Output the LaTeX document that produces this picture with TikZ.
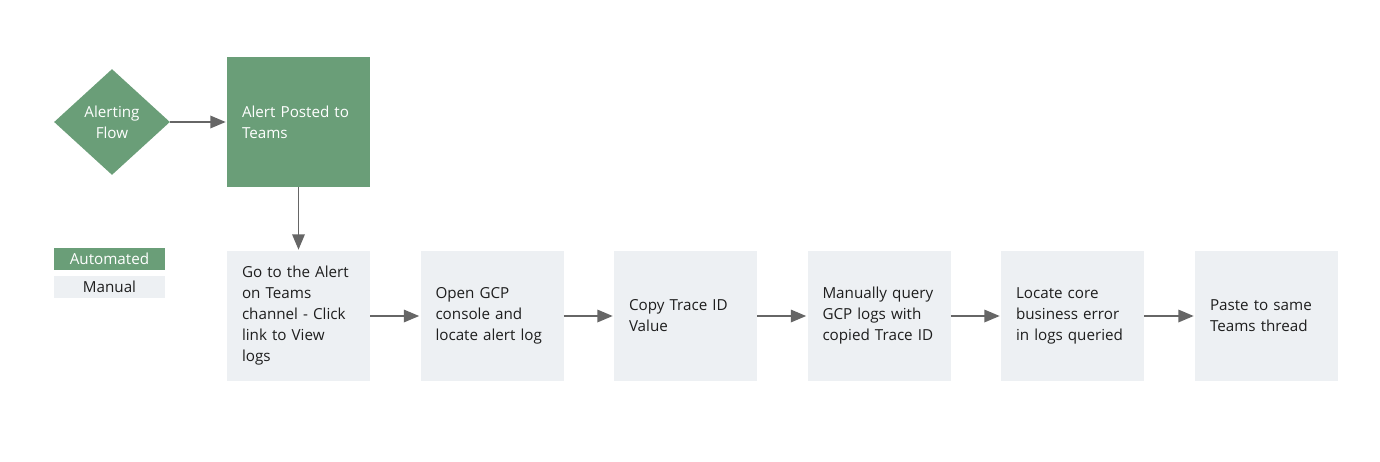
\documentclass[tikz,border=0pt]{standalone}
\usepackage{fontspec}
\setmainfont{Open Sans}
\usetikzlibrary{arrows,shapes.geometric}

\begin{document}
\begin{tikzpicture}[x=0.5pt, y=-0.5pt,
    %Option for nice arrows
    >=triangle 45, %
    font=\fontsize{7.6}{10.5}\selectfont,
    flow/.style={->, color=arrowgray, line width=0.75pt, shorten >=0.5pt},
    auto/.style={fill=autogreen, text=white},
    manual/.style={fill=manualgray, text=textdark},
    stepbox/.style={inner xsep=7.5pt, inner ysep=0pt, text width=56.5pt, minimum height=65pt, align=left},
    legend/.style={inner sep=0pt, minimum width=55.5pt, minimum height=11pt},
]
    % Colors
    \definecolor{autogreen}{RGB}{106,158,120}
    \definecolor{manualgray}{RGB}{237,240,243}
    \definecolor{arrowgray}{RGB}{102,102,102}
    \definecolor{textdark}{RGB}{30,30,30}

    % Frame
    \useasboundingbox (0,0) rectangle (1380,461);

    % Automated part
    \node[auto, diamond, inner sep=0pt, minimum width=58pt, minimum height=53pt, aspect=1.1, align=center]
        (alerting) at (112,122) {Alerting\\Flow};
    \node[auto, stepbox] (posted) at (298.5,122) {Alert Posted to\\Teams};

    % Legend
    \node[auto,   legend] (legauto)   at (109.5,259)   {Automated};
    \node[manual, legend] (legmanual) at (109.5,286.5) {Manual};

    % Manual steps
    \foreach \i/\x/\txt in {1/298.5/{Go to the Alert\\on Teams\\channel - Click\\link to View\\logs},
                            2/492/{Open GCP\\console and\\locate alert log},
                            3/685.5/{Copy Trace ID\\Value},
                            4/879/{Manually query\\GCP logs with\\copied Trace ID},
                            5/1072.5/{Locate core\\business error\\in logs queried},
                            6/1266.5/{Paste to same\\Teams thread}}
        \node[manual, stepbox] (step\i) at (\x,316) {\txt};

    % Connectors
    \draw[flow] (alerting) -- (posted);
    \draw[flow] (posted) -- (step1);
    \foreach \a/\b in {1/2,2/3,3/4,4/5,5/6}
        \draw[flow] (step\a) -- (step\b);
\end{tikzpicture}
\end{document}
